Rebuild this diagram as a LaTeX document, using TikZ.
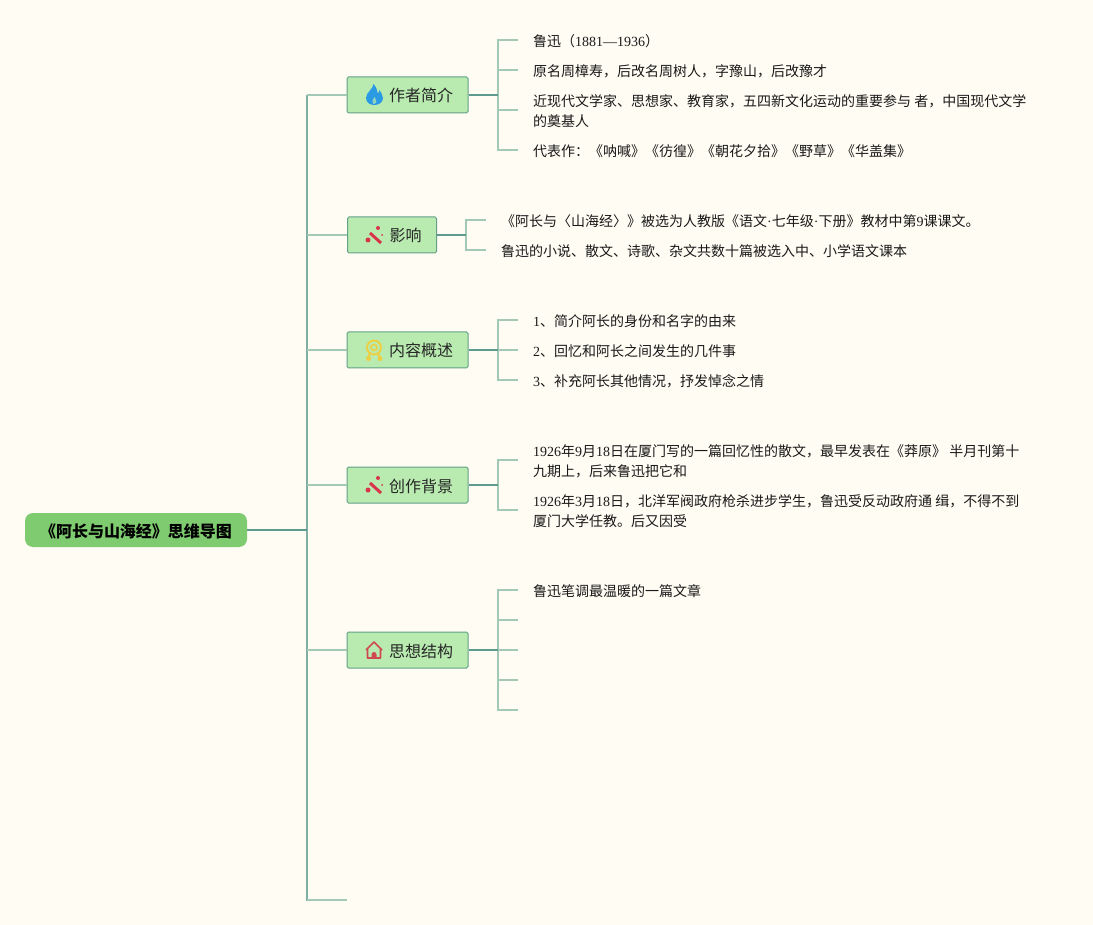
\documentclass[tikz,border=0pt]{standalone}
\usepackage{fontspec}
\setmainfont{Noto Sans CJK SC}
\newfontfamily\latinfont{Liberation Serif}
\newcommand{\lat}[1]{{\latinfont #1}}
\usetikzlibrary{positioning}
\definecolor{paper}{HTML}{FFFCF3}
\definecolor{rootfill}{HTML}{7FCB6F}
\definecolor{topicfill}{HTML}{B9EBB0}
\definecolor{topicdraw}{HTML}{62A088}
\definecolor{darkline}{HTML}{5F9A90}
\definecolor{midline}{HTML}{7FAFA3}
\definecolor{lightline}{HTML}{A3C8B5}
\definecolor{flameblue}{HTML}{2A9BE3}
\definecolor{wandred}{HTML}{D8344A}
\definecolor{medalyellow}{HTML}{EBCF45}
\definecolor{housered}{HTML}{CF4A50}
\tikzset{
  root/.style={fill=rootfill,rounded corners=8pt,minimum width=222pt,minimum height=34pt,inner sep=0pt,text height=16pt,text depth=2pt,font=\fontsize{16}{20}\selectfont\bfseries},
  topic/.style={draw=topicdraw,fill=topicfill,rounded corners=1.5pt,line width=1pt,minimum height=36pt,inner xsep=15pt,inner ysep=0pt,text height=16pt,text depth=2pt,font=\fontsize{16}{20}\selectfont,text=black!85},
  leaf/.style={anchor=west,inner xsep=15pt,inner ysep=0pt,align=left,font=\fontsize{14}{20}\selectfont,text=black!90},
  thick line/.style={darkline,line width=1.5pt},
  trunk line/.style={midline,line width=1.5pt},
  thin line/.style={lightline,line width=1.5pt},
  flame/.pic={
    \fill[flameblue] (-1,-11) .. controls (-1,-6) and (-8.5,-3) .. (-8.5,3)
      .. controls (-8.5,8) and (-4,10) .. (0,10) .. controls (5,10) and (8.5,7) .. (8.5,3)
      .. controls (8.5,0) and (6,-3) .. (5,-5) .. controls (5,-3) and (4,-2) .. (3,-2)
      .. controls (3,-5) and (1,-9) .. (-1,-11) -- cycle;
    \fill[topicfill!70!flameblue] (0,2) .. controls (-2,4) and (-3,6) .. (-1,9)
      .. controls (2,9) and (3,6) .. (0,2) -- cycle;
  },
  wand/.pic={
    \draw[wandred,line width=3pt] (-4.5,-2) -- (6.5,8);
    \fill[wandred] (-6.5,5) circle (2.5pt) (3.5,-7) circle (2pt) (7.5,0) circle (1pt);
  },
  medal/.pic={
    \draw[medalyellow,line width=2pt] (-0.5,-2.5) circle (7pt);
    \draw[medalyellow,line width=1.6pt] (-0.5,-2.5) circle (3pt);
    \draw[medalyellow,line width=2.2pt] (-5,4) -- (-6,8) (4,4) -- (5,8);
    \fill[medalyellow] (-6,8.5) circle (2.5pt) (5.5,8.5) circle (2.5pt);
  },
  house/.pic={
    \draw[housered,line width=1.6pt,line join=round] (-8.5,0) -- (-0.5,-8) -- (7.5,0) (-7,-1) -- (-7,8) -- (6,8) -- (6,-1);
    \fill[housered] (-3,8) -- (-3,4.5) arc (180:360:2.5pt and -2.5pt) -- (2,8) -- cycle;
  },
}
\begin{document}
\begin{tikzpicture}[x=1pt,y=-1pt]
  \fill[paper] (0,0) rectangle (1093,925);
  \useasboundingbox (0,0) rectangle (1093,925);

  % center and the long line
  \node[root] (map) at (136,530) {《阿长与山海经》思维导图};
  \coordinate (top) at (307,95);
  \coordinate (hub) at (307,530);
  \coordinate (end) at (347,900);

  % topics
  \node[topic] (author)  at (407.5,95)  {\hspace*{27pt}作者简介};
  \node[topic] (impact)  at (392,235)   {\hspace*{27pt}影响};
  \node[topic] (summary) at (407.5,350) {\hspace*{27pt}内容概述};
  \node[topic] (backgr)  at (407.5,485) {\hspace*{27pt}创作背景};
  \node[topic] (idea)    at (407.5,650) {\hspace*{27pt}思想结构};

  \pic at (374.5,95)  {flame};
  \pic at (374.5,235) {wand};
  \pic at (374.5,350) {medal};
  \pic at (374.5,485) {wand};
  \pic at (374.5,650) {house};

  % leaves
  \node[leaf] (a1) at (518,41)  {鲁迅（\lat{1881—1936}）};
  \node[leaf] (a2) at (518,71)  {原名周樟寿，后改名周树人，字豫山，后改豫才};
  \node[leaf] (a3) at (518,111) {近现代文学家、思想家、教育家，五四新文化运动的重要参与 者，中国现代文学\\的奠基人};
  \node[leaf] (a4) at (518,151) {代表作：《呐喊》《彷徨》《朝花夕拾》《野草》《华盖集》};

  \node[leaf] (b1) at (486,221) {《阿长与〈山海经〉》被选为人教版《语文\lat{·}七年级\lat{·}下册》教材中第\lat{9}课课文。};
  \node[leaf] (b2) at (486,251) {鲁迅的小说、散文、诗歌、杂文共数十篇被选入中、小学语文课本};

  \node[leaf] (c1) at (518,321) {\lat{1}、简介阿长的身份和名字的由来};
  \node[leaf] (c2) at (518,351) {\lat{2}、回忆和阿长之间发生的几件事};
  \node[leaf] (c3) at (518,381) {\lat{3}、补充阿长其他情况，抒发悼念之情};

  \node[leaf] (d1) at (518,461) {\lat{1926}年\lat{9}月\lat{18}日在厦门写的一篇回忆性的散文，最早发表在《莽原》 半月刊第十\\九期上，后来鲁迅把它和};
  \node[leaf] (d2) at (518,511) {\lat{1926}年\lat{3}月\lat{18}日，北洋军阀政府枪杀进步学生，鲁迅受反动政府通 缉，不得不到\\厦门大学任教。后又因受};

  \node[leaf] (e1) at (518,591) {鲁迅笔调最温暖的一篇文章};
  \coordinate (e2) at (518,621);
  \coordinate (e3) at (518,651);
  \coordinate (e4) at (518,681);
  \coordinate (e5) at (518,711);

  % buses
  \coordinate (abus) at (498,95);
  \coordinate (bbus) at (466,235);
  \coordinate (cbus) at (498,350);
  \coordinate (dbus) at (498,485);
  \coordinate (ebus) at (498,650);

  \draw[trunk line] (top) -- (hub |- end) -- (end);
  \foreach \t in {author,impact,summary,backgr,idea}
    \draw[thin line] (top |- \t.west) -- (\t.west);
  \draw[thin line] (hub |- end) -- (end);
  \draw[thick line] (map.east) -- (hub);

  \foreach \b/\l in {abus/a1.west,abus/a2.west,abus/a3.west,abus/a4.west,
                     bbus/b1.west,bbus/b2.west,
                     cbus/c1.west,cbus/c2.west,cbus/c3.west,
                     dbus/d1.west,dbus/d2.west,
                     ebus/e1.west,ebus/e2,ebus/e3,ebus/e4,ebus/e5}
    \draw[thin line] (\b) |- ([yshift=1pt]\l);

  \draw[thick line] (author.east) -- (abus);
  \draw[thick line] (impact.east) -- (bbus);
  \draw[thick line] (summary.east) -- (cbus);
  \draw[thick line] (backgr.east) -- (dbus);
  \draw[thick line] (idea.east) -- (ebus);
\end{tikzpicture}
\end{document}
